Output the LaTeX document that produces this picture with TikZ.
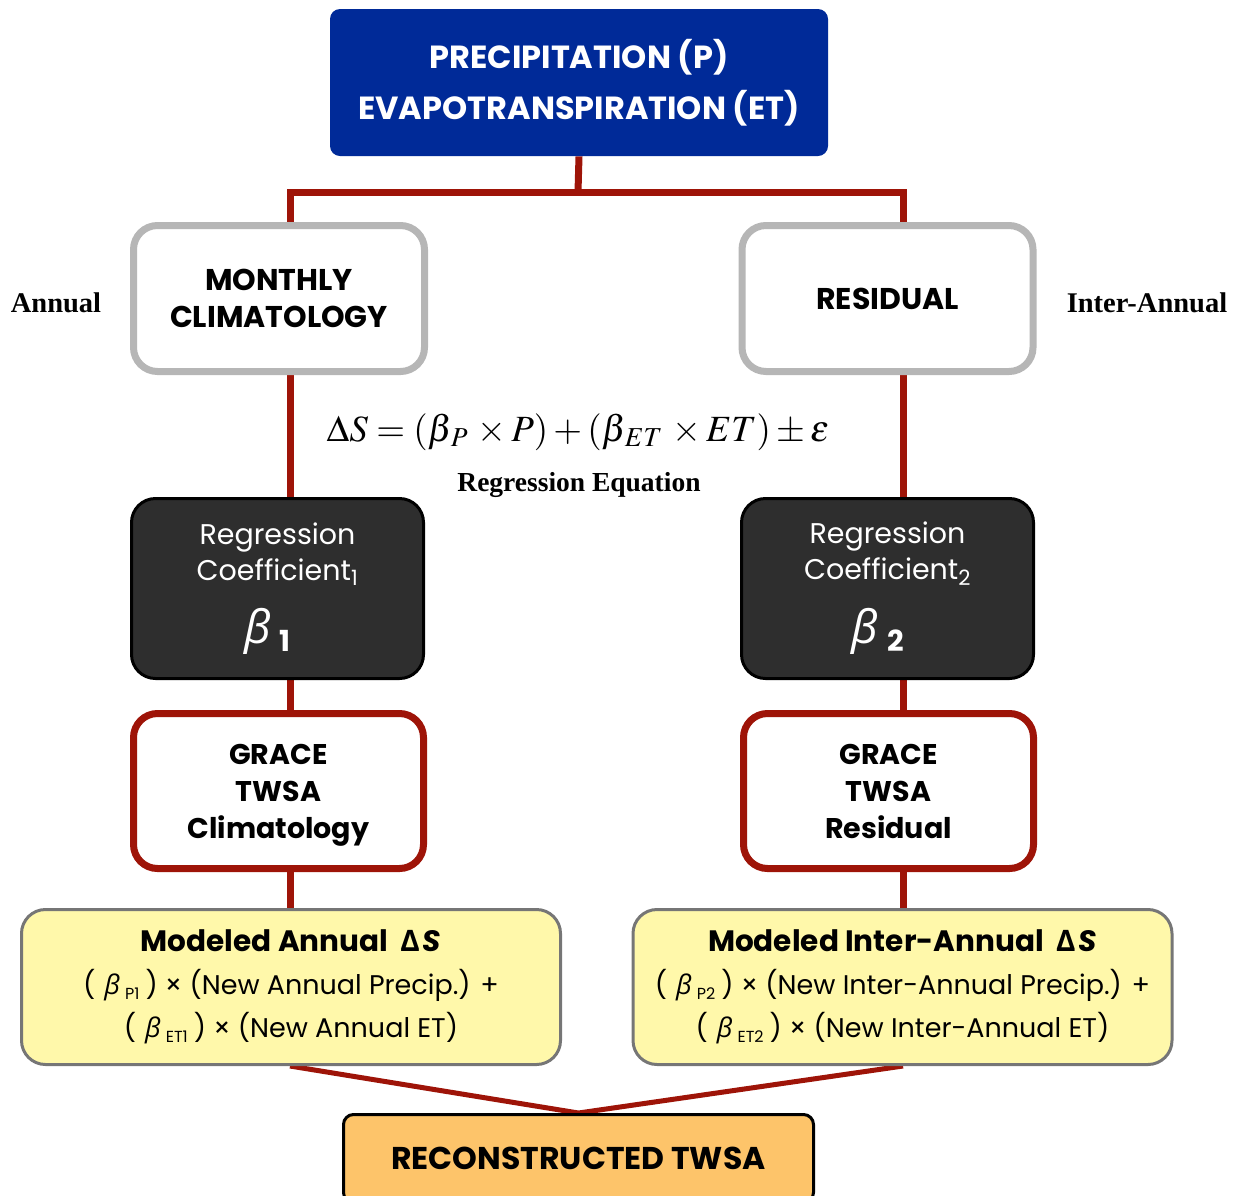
\documentclass[tikz,border=0pt]{standalone}
\usepackage{mathptmx}
\usepackage{fontspec}
\usetikzlibrary{backgrounds}
\newfontfamily\gothic{Poppins}
\newfontfamily\grk{Open Sans}
\newfontfamily\garam{Liberation Serif}

\definecolor{precipblue}{RGB}{0,42,152}
\definecolor{linkred}{RGB}{158,20,8}
\definecolor{boxgray}{RGB}{182,182,182}
\definecolor{coefdark}{RGB}{46,46,46}
\definecolor{modelyellow}{RGB}{255,248,170}
\definecolor{modelgray}{RGB}{118,118,118}
\definecolor{reconorange}{RGB}{253,196,106}

\tikzset{every picture/.style={line width=0.75pt}}
\tikzset{
  link/.style={draw=linkred, line width=7pt},
  topbox/.style={fill=precipblue, rounded corners=10pt, text=white, align=center,
    font=\gothic\bfseries\fontsize{32}{51}\selectfont},
  splitbox/.style={draw=boxgray, line width=7pt, fill=white, rounded corners=24pt,
    align=center, minimum width=291pt, minimum height=146pt,
    font=\gothic\bfseries\fontsize{30}{37}\selectfont},
  coefbox/.style={draw=black, line width=3pt, fill=coefdark, rounded corners=24pt,
    text=white, align=center, minimum width=292pt, minimum height=180pt,
    font=\gothic\fontsize{28.5}{36}\selectfont},
  gracebox/.style={draw=linkred, line width=7pt, fill=white, rounded corners=24pt,
    align=center, minimum width=290pt, minimum height=155pt, text depth=0pt,
    execute at begin node={\rule{0pt}{28pt}},
    font=\gothic\bfseries\fontsize{28.5}{37}\selectfont},
  modelbox/.style={draw=modelgray, line width=3pt, fill=modelyellow, rounded corners=24pt,
    align=center, minimum width=539pt, minimum height=155pt,
    font=\gothic\fontsize{27}{43}\selectfont},
  sidelabel/.style={font=\garam\bfseries\fontsize{28.5}{30}\selectfont},
}
\newcommand{\bigbeta}[1]{{\fontsize{46}{46}\selectfont\grk\itshape β}\hspace{9pt}\raisebox{-8pt}{\fontsize{29}{29}\selectfont\gothic\bfseries #1}\hspace*{20pt}}
\newcommand{\smbeta}[1]{(\hspace{9pt}{\grk\itshape β}\hspace{5pt}\raisebox{-5pt}{\fontsize{16}{16}\selectfont #1}\hspace{6pt})}

\begin{document}
\begin{tikzpicture}[x=1pt,y=1pt,yscale=-1,xscale=1]
\useasboundingbox (0,0) rectangle (1237,1195);

% Top Box
\node [topbox, minimum width=498pt, minimum height=147pt] (pe) at (579,82.5) {PRECIPITATION (P)\\EVAPOTRANSPIRATION (ET)};

% Branch Boxes
\node [splitbox] (mc) at (279,298.5) {MONTHLY\\CLIMATOLOGY};
\node [splitbox] (rs) at (887.5,298.5) {RESIDUAL};

% Side Labels
\node [sidelabel] (an) at (56,303) {Annual};
\node [sidelabel] (ia) at (1147,303) {Inter-Annual};

% Regression Equation
\node [font=\fontsize{37}{42}\selectfont] (eq) at (578,432) {$\Delta S = (\beta_{\kern3pt P}\, \times P) + (\beta_{\kern3pt ET}\, \times ET) \pm \varepsilon$};
\node [font=\garam\bfseries\fontsize{27.5}{30}\selectfont] (eqlab) at (579,485) {Regression Equation};

% Coefficient Boxes
\node [coefbox] (rc1) at (277.5,588.5) {Regression\\Coefficient\textsubscript{1}\\[22pt]\bigbeta{1}};
\node [coefbox] (rc2) at (887.5,588.5) {Regression\\Coefficient\textsubscript{2}\\[22pt]\bigbeta{2}};

% GRACE Boxes
\node [gracebox] (gr1) at (278.5,791) {GRACE\\TWSA\\Climatology};
\node [gracebox] (gr2) at (888.5,791) {GRACE\\TWSA\\Residual};

% Modeled Boxes
\node [modelbox] (ym1) at (291,987) {{\bfseries\fontsize{29.5}{30}\selectfont Modeled Annual \hspace{6pt}{\grk Δ}\hspace{3pt}\textit{S}}\\\smbeta{P1} × (New Annual Precip.) +\\\smbeta{ET1} × (New Annual ET)};
\node [modelbox] (ym2) at (902.5,987) {{\bfseries\fontsize{29.5}{30}\selectfont Modeled Inter-Annual \hspace{6pt}{\grk Δ}\hspace{3pt}\textit{S}}\\\smbeta{P2} × (New Inter-Annual Precip.) +\\\smbeta{ET2} × (New Inter-Annual ET)};

% Result Box
\node [draw=black, line width=3pt, fill=reconorange, rounded corners=10pt, minimum width=470pt, minimum height=88pt,
  font=\gothic\bfseries\fontsize{31.5}{36}\selectfont] (rt) at (578.5,1158.5) {RECONSTRUCTED TWSA};

% Connectors
\coordinate (lx) at (290,0);
\coordinate (rx) at (903,0);
\coordinate (jn) at (578,192);
\begin{scope}[on background layer]
\draw [link] (pe.south) -- (jn);
\draw [link] (lx |- mc.north) |- (jn) -| (rx |- rs.north);
\draw [link] (lx |- mc.south) -- (lx |- rc1.north);
\draw [link] (rx |- rs.south) -- (rx |- rc2.north);
\draw [link] (lx |- rc1.south) -- (lx |- gr1.north);
\draw [link] (rx |- rc2.south) -- (rx |- gr2.north);
\draw [link] (lx |- gr1.south) -- (lx |- ym1.north);
\draw [link] (rx |- gr2.south) -- (rx |- ym2.north);
\draw [link, line width=5pt] (lx |- ym1.south) -- (rt.north) -- (rx |- ym2.south);
\end{scope}

\end{tikzpicture}
\end{document}
